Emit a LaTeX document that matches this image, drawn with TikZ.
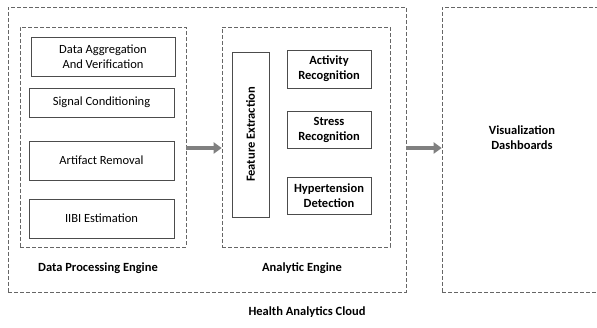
\documentclass[tikz,border=0pt]{standalone}
\usepackage{fontspec}
\setmainfont{Carlito}
\usetikzlibrary{arrows.meta}

\newcommand{\diagfont}{\fontsize{12.5}{15}\selectfont}

\tikzset{
  dashbox/.style={draw=black!60, dashed, dash pattern=on 4pt off 2pt, line width=.6pt},
  stage/.style={draw=black!70, line width=.7pt, align=center, inner sep=0pt, font=\diagfont},
  boldstage/.style={stage, font=\diagfont\bfseries},
  caption/.style={font=\diagfont\bfseries, align=center},
  flow/.style={draw=black!50, line width=3.6pt, -{Triangle[length=8pt,width=11pt]}}
}

\begin{document}
\begin{tikzpicture}[x=1pt, y=-1pt]
\clip (0,0) rectangle (597,328);
\useasboundingbox (0,0) rectangle (597,328);
\node[dashbox, minimum width=398pt, minimum height=285pt] (cloud) at (207,149.5) {};
\node[dashbox, minimum width=166pt, minimum height=220pt] (dpe) at (103,137) {};
\node[dashbox, minimum width=168pt, minimum height=220pt] (ae) at (306,137) {};
\node[dashbox, minimum width=170pt, minimum height=285pt] (vis) at (527,149.5) {};
\node[caption] (vislabel) at (522,138) {Visualization\\Dashboards};
% data processing engine
\node[stage, minimum width=144pt, minimum height=39pt] (agg) at (103,56.5) {Data Aggregation\\And Verification};
\node[stage, minimum width=145pt, minimum height=29pt] (sig) at (101.5,102.5) {Signal Conditioning};
\node[stage, minimum width=145pt, minimum height=39pt] (art) at (101.5,160.5) {Artifact Removal};
\node[stage, minimum width=145pt, minimum height=39pt] (iibi) at (101.5,218.5) {IIBI Estimation};
\node[caption] (dpelabel) at (98,268) {Data Processing Engine};
% analytic engine
\node[boldstage, rotate=90, minimum width=165pt, minimum height=37pt] (fe) at (250.5,134.5) {Feature Extraction};
\node[boldstage, minimum width=84pt, minimum height=38pt] (act) at (329,69) {Activity\\Recognition};
\node[boldstage, minimum width=84pt, minimum height=37pt] (str) at (329,129.5) {Stress\\Recognition};
\node[boldstage, minimum width=84pt, minimum height=37pt] (hyp) at (329,195.5) {Hypertension\\Detection};
\node[caption] (aelabel) at (302,268) {Analytic Engine};
\node[caption] (cloudlabel) at (307,312) {Health Analytics Cloud};
% arrows
\draw[flow] ([yshift=-11pt]dpe.east) -- ([yshift=-11pt]ae.west);
\draw[flow] ([yshift=1.5pt]cloud.east) -- ([yshift=1.5pt]vis.west);
\end{tikzpicture}
\end{document}
